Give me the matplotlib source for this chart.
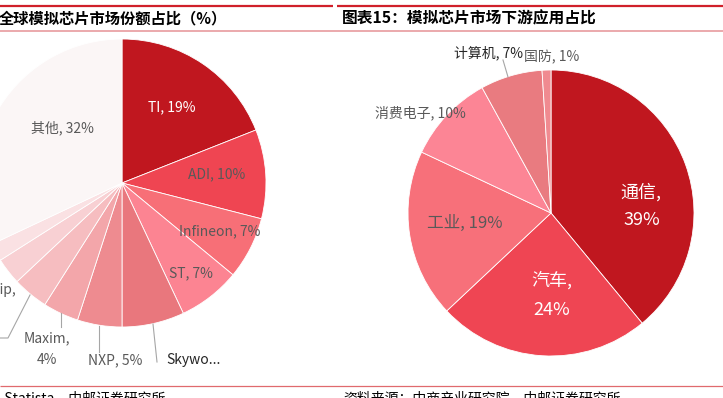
import matplotlib
matplotlib.use("Agg")
import matplotlib.pyplot as plt

plt.rcParams['font.family'] = ['Noto Sans CJK SC', 'DejaVu Sans']

# ---------------- data ----------------
left_title = "全球模拟芯片市场份额占比（%）"
right_title = "图表15：模拟芯片市场下游应用占比"
left_source = "资料来源：Statista，中邮证券研究所"
right_source = "资料来源：中商产业研究院，中邮证券研究所"

vendors = ["TI", "ADI", "Infineon", "ST", "Skyworks", "NXP", "Maxim",
           "Microchip", "Renesas", "ON", "其他"]
vendor_share = [19, 10, 7, 7, 7, 5, 4, 4, 3, 2, 32]
vendor_colors = ["#C0171F", "#EF4552", "#F76F77", "#FC8492", "#E9777D",
                 "#EE8B90", "#F3A6AA", "#F6BDC0", "#F8D0D3", "#FAE1E3",
                 "#FBF6F6"]

apps = ["通信", "汽车", "工业", "消费电子", "计算机", "国防"]
app_share = [39, 24, 19, 10, 7, 1]
app_colors = ["#C0171F", "#EF4553", "#F7707A", "#FC8595", "#E97B80", "#F08A90"]

W, H = 723, 398
fig = plt.figure(figsize=(W / 100, H / 100), dpi=100)
ax = fig.add_axes([0, 0, 1, 1])


def Y(y):
    return H - y


# ---------------- pies ----------------
wp = dict(edgecolor="white", linewidth=0.6)
ax.pie(vendor_share, colors=vendor_colors, startangle=90, counterclock=False,
       center=(122, Y(183)), radius=144, wedgeprops=wp, frame=True)
ax.pie(app_share, colors=app_colors, startangle=90, counterclock=False,
       center=(551, Y(213)), radius=143, wedgeprops=wp, frame=True)

ax.set_xlim(0, W)
ax.set_ylim(0, H)
ax.set_aspect("auto")
ax.axis("off")

grey = "#595959"
dark = "#262626"
fs = 10

# left pie labels
ax.text(62, Y(128), f"{vendors[10]}, {vendor_share[10]}%", color=grey, fontsize=fs, ha="center", va="center")
ax.text(172, Y(107), f"{vendors[0]}, {vendor_share[0]}%", color="white", fontsize=fs, ha="center", va="center")
ax.text(217, Y(174), f"{vendors[1]}, {vendor_share[1]}%", color=grey, fontsize=fs, ha="center", va="center")
ax.text(220, Y(231), f"{vendors[2]}, {vendor_share[2]}%", color=grey, fontsize=fs, ha="center", va="center")
ax.text(191, Y(273), f"{vendors[3]}, {vendor_share[3]}%", color=grey, fontsize=fs, ha="center", va="center")
ax.text(166, Y(360), "Skywo...", color=dark, fontsize=fs, ha="left", va="center")
ax.text(115, Y(360), f"{vendors[5]}, {vendor_share[5]}%", color=grey, fontsize=fs, ha="center", va="center")
ax.text(47, Y(338), f"{vendors[6]},", color=grey, fontsize=fs, ha="center", va="center")
ax.text(47, Y(360), f"{vendor_share[6]}%", color=grey, fontsize=fs, ha="center", va="center")
ax.text(16, Y(290), f"{vendors[7]},", color=grey, fontsize=fs, ha="right", va="center")

lc = "#A6A6A6"
ax.plot([153, 157], [Y(324), Y(362)], color=lc, lw=0.8)
ax.plot([99, 99], [Y(326), Y(352)], color=lc, lw=0.8)
ax.plot([61, 61], [Y(313), Y(327)], color=lc, lw=0.8)
ax.plot([30, 8, -2], [Y(295), Y(338), Y(338)], color=lc, lw=0.8)

# right pie labels
ax.text(641, Y(192), f"{apps[0]},", color="white", fontsize=13, ha="center", va="center")
ax.text(642, Y(220), f"{app_share[0]}%", color="white", fontsize=13, ha="center", va="center")
ax.text(552, Y(280), f"{apps[1]},", color="white", fontsize=13, ha="center", va="center")
ax.text(552, Y(310), f"{app_share[1]}%", color="white", fontsize=13, ha="center", va="center")
ax.text(465, Y(223), f"{apps[2]}, {app_share[2]}%", color=grey, fontsize=12, ha="center", va="center")
ax.text(420, Y(113), f"{apps[3]}, {app_share[3]}%", color=grey, fontsize=fs, ha="center", va="center")
ax.text(488, Y(53), f"{apps[4]}, {app_share[4]}%", color=dark, fontsize=fs, ha="center", va="center")
ax.text(552, Y(57), f"{apps[5]}, {app_share[5]}%", color=grey, fontsize=fs, ha="center", va="center")
ax.plot([508, 503], [Y(77), Y(60)], color=lc, lw=0.8)

# ---------------- frame lines & titles ----------------
ax.plot([0, 333], [Y(6), Y(6)], color="#D0202A", lw=1.6, solid_capstyle="butt")
ax.plot([337, W], [Y(6), Y(6)], color="#D0202A", lw=1.6, solid_capstyle="butt")
ax.plot([0, W], [Y(31), Y(31)], color="#E9A3A6", lw=1.3, solid_capstyle="butt")
ax.plot([0, W], [Y(385.5), Y(385.5)], color="#E06A6E", lw=0.9, solid_capstyle="butt")

ax.text(-1, Y(18), left_title, color="black", fontsize=11, fontweight="bold",
        ha="left", va="center")
ax.text(342, Y(18), right_title, color="black", fontsize=11.3, fontweight="bold",
        ha="left", va="center")

ax.text(-65, Y(391), left_source, color="black", fontsize=10, ha="left", va="top")
ax.text(343, Y(391), right_source, color="black", fontsize=10, ha="left", va="top")

fig.savefig("out.png", dpi=100)
